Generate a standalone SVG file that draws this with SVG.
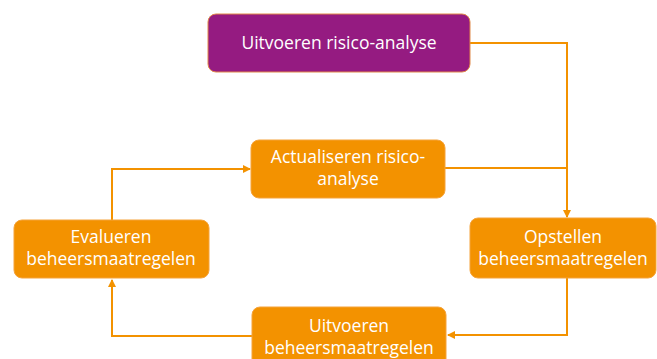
<svg xmlns="http://www.w3.org/2000/svg" width="657" height="359" viewBox="0 0 657 359">
<style>
.box{fill:#F39200;stroke:#F5A33A;stroke-width:1}
.purple{fill:#951B81;stroke:#E0894A;stroke-width:1}
.t{font-family:"Open Sans","Liberation Sans",sans-serif;font-size:17.5px;fill:#FFFFFF;text-anchor:middle}
.c{fill:none;stroke:#F39200;stroke-width:2}
</style>
<defs>
<marker id="ah" viewBox="0 0 8 8" refX="7" refY="4" markerWidth="4" markerHeight="4" orient="auto" markerUnits="strokeWidth">
<path d="M0,0 L8,4 L0,8 Z" fill="#F39200"/>
</marker>
</defs>
<rect x="0" y="0" width="657" height="359" fill="#FFFFFF"/>
<g id="connectors">
<path class="c" d="M470,43 H567 V217" marker-end="url(#ah)"/>
<path class="c" d="M445,168 H567"/>
<path class="c" d="M567,278 V335 H448" marker-end="url(#ah)"/>
<path class="c" d="M252,336 H112 V280" marker-end="url(#ah)"/>
<path class="c" d="M112,220 V169 H250" marker-end="url(#ah)"/>
</g>
<g id="risico-analyse">
<rect class="purple" x="208" y="14" width="262" height="58" rx="8"/>
<text class="t" x="339" y="49">Uitvoeren risico-analyse</text>
</g>
<g id="actualiseren">
<rect class="box" x="251" y="140" width="194" height="58" rx="8"/>
<text class="t" x="348" y="163">Actualiseren risico-</text>
<text class="t" x="348" y="185">analyse</text>
</g>
<g id="opstellen">
<rect class="box" x="470" y="218" width="186" height="60" rx="8"/>
<text class="t" x="563" y="243">Opstellen</text>
<text class="t" x="563" y="265">beheersmaatregelen</text>
</g>
<g id="evalueren">
<rect class="box" x="14" y="220" width="195" height="58" rx="8"/>
<text class="t" x="111" y="243">Evalueren</text>
<text class="t" x="111" y="265">beheersmaatregelen</text>
</g>
<g id="uitvoeren-beheers">
<rect class="box" x="252" y="307" width="194" height="62" rx="8"/>
<text class="t" x="349" y="332">Uitvoeren</text>
<text class="t" x="349" y="354">beheersmaatregelen</text>
</g>
</svg>
